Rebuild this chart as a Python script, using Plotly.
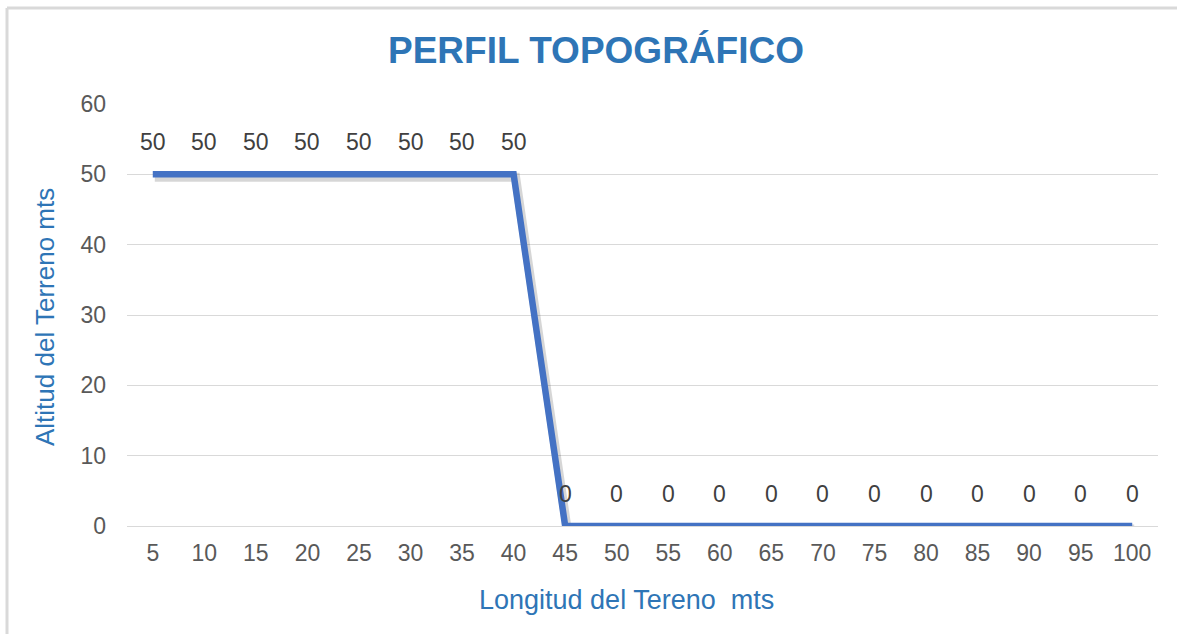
import plotly.graph_objects as go

longitud = [5, 10, 15, 20, 25, 30, 35, 40, 45, 50, 55, 60, 65, 70, 75, 80, 85, 90, 95, 100]
altitud = [50, 50, 50, 50, 50, 50, 50, 50, 0, 0, 0, 0, 0, 0, 0, 0, 0, 0, 0, 0]
x_labels = [str(v) for v in longitud]
y_ticks = [0, 10, 20, 30, 40, 50, 60]

title_text = "PERFIL TOPOGRÁFICO"
x_title = "Longitud del Tereno  mts"
y_title = "Altitud del Terreno mts"

FONT = "Liberation Sans, Arial, sans-serif"
BLUE_TXT = "#2E75B6"

W, H = 1177, 634
L, R, T, B = 127, 19, 104, 108
pw, ph = W - L - R, H - T - B
n = len(x_labels)

fig = go.Figure()
# base trace on the main (category) axes, invisible: carries the axes and hover
fig.add_trace(go.Scatter(
    x=x_labels, y=altitud, mode="lines",
    line=dict(color="rgba(0,0,0,0)", width=6),
    hovertemplate="%{x}: %{y}<extra></extra>", showlegend=False,
))
# soft shadow of the line (same data on an overlay axis shifted a few pixels)
dy = 3 / ph * 60
dx = 2 / (pw / n)
fig.add_trace(go.Scatter(
    x=list(range(n)), y=altitud, mode="lines", xaxis="x2", yaxis="y2",
    line=dict(color="rgba(0,0,0,0.16)", width=9),
    hoverinfo="skip", showlegend=False,
))
# visible line
fig.add_trace(go.Scatter(
    x=list(range(n)), y=altitud, mode="lines", xaxis="x3", yaxis="y3",
    line=dict(color="#4472C4", width=6.5),
    hoverinfo="skip", showlegend=False,
))

for lab, v in zip(x_labels, altitud):
    fig.add_annotation(x=x_labels.index(lab), y=v, text=str(v), showarrow=False, yshift=32,
                       font=dict(family=FONT, size=23, color="#404040"))

# axis titles
fig.add_annotation(xref="paper", yref="paper", x=(626 - L) / pw, y=-(600 - (H - B)) / ph,
                   text=x_title, showarrow=False, xanchor="center", yanchor="middle",
                   font=dict(family=FONT, size=27, color=BLUE_TXT))
fig.add_annotation(xref="paper", yref="paper", x=(45 - L) / pw, y=((H - B) - 317) / ph,
                   text=y_title, showarrow=False, textangle=-90, xanchor="center", yanchor="middle",
                   font=dict(family=FONT, size=26, color=BLUE_TXT))

# chart frame (top and left edges visible)
fig.add_shape(type="line", xref="paper", yref="paper",
              x0=(7 - L) / pw, x1=(W - L) / pw, y0=(H - B - 8) / ph, y1=(H - B - 8) / ph,
              line=dict(color="#D9D9D9", width=3))
fig.add_shape(type="line", xref="paper", yref="paper",
              x0=(7 - L) / pw, x1=(7 - L) / pw, y0=(H - B - 8) / ph, y1=-B / ph,
              line=dict(color="#D9D9D9", width=3))

fig.update_layout(
    width=W, height=H,
    margin=dict(l=L, r=R, t=T, b=B),
    paper_bgcolor="white", plot_bgcolor="white",
    title=dict(text=title_text, x=596 / W, xanchor="center",
               y=(H - 50) / H, yanchor="middle",
               font=dict(family=FONT, size=37, color=BLUE_TXT, weight="bold")),
    font=dict(family=FONT),
    xaxis=dict(
        type="category", categoryorder="array", categoryarray=x_labels,
        range=[-0.5, n - 0.5],
        showgrid=False, showline=True, linecolor="#D9D9D9", linewidth=1,
        ticks="", tickfont=dict(size=23, color="#595959"), ticklabelstandoff=6,
        zeroline=False,
    ),
    xaxis2=dict(range=[-0.5 - dx, n - 0.5 - dx], overlaying="x", visible=False),
    xaxis3=dict(range=[-0.5, n - 0.5], overlaying="x", visible=False),
    yaxis=dict(
        range=[0, 60], tickvals=y_ticks, showgrid=True, gridcolor="#D9D9D9", gridwidth=1,
        zeroline=False, showline=False, ticks="",
        tickfont=dict(size=23, color="#595959"), ticklabelstandoff=20,
    ),
    yaxis2=dict(range=[0 + dy, 60 + dy], overlaying="y", visible=False),
    yaxis3=dict(range=[0, 60], overlaying="y", visible=False),
)

fig.write_html("out.html", config={"displayModeBar": False},
               post_script="document.body.style.margin='0';document.body.style.padding='0';")
